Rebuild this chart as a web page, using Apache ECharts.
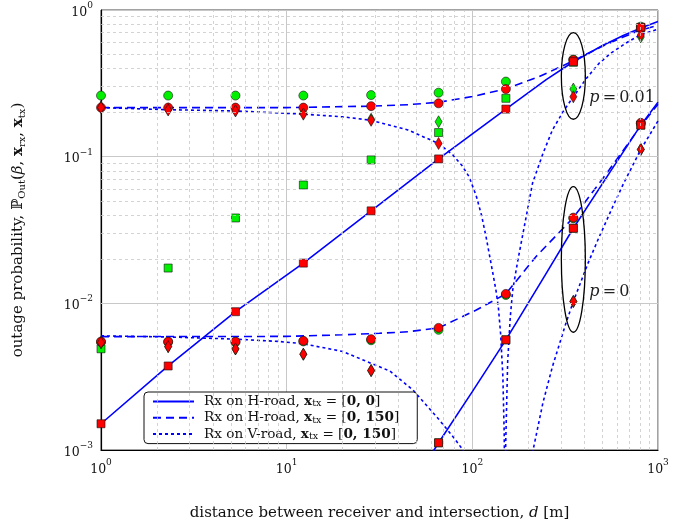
<!DOCTYPE html>
<html>
<head>
<meta charset="utf-8">
<script src="https://cdn.jsdelivr.net/npm/echarts@6/dist/echarts.min.js"></script>
<style>
  html, body { margin: 0; padding: 0; background: #fff; }
  #chart { width: 694px; height: 524px; }
</style>
</head>
<body>
<div id="chart"></div>
<script>
// distances where the markers sit
var dist = [1, 2.3, 5.3, 12.3, 28.5, 65.8, 151.6, 350, 808];

// markers, p = 0.01
var p1GreenCircle = [0.261, 0.261, 0.261, 0.261, 0.263, 0.273, 0.325, 0.46, 0.77];
var p1GreenSquare = [0.0049, 0.0174, 0.0382, 0.0641, 0.095, 0.146, 0.25, 0.44, 0.76];
var p1GreenDiamond = [0.218, 0.212, 0.208, 0.2, 0.18, 0.173, null, 0.289, 0.655];
var p1RedCircle = [0.216, 0.216, 0.216, 0.216, 0.221, 0.231, 0.289, 0.456, 0.75];
var p1RedSquare = [0.00151, 0.00374, 0.00877, 0.0188, 0.0427, 0.0965, 0.211, 0.444, 0.762];
var p1RedDiamond = [0.216, 0.208, 0.205, 0.195, 0.177, 0.123, null, 0.256, 0.675];

// markers, p = 0
var p0GreenCircle = [0.00545, 0.00545, 0.00545, 0.0055, 0.0056, 0.0066, 0.0114, 0.038, 0.168];
var p0GreenSquare = [null, null, null, null, null, 0.00112, 0.00564, 0.0325, 0.164];
var p0GreenDiamond = [0.0054, 0.00507, 0.00489, 0.0045, 0.00348, null, null, 0.0103, 0.112];
var p0RedCircle = [0.00548, 0.00548, 0.00548, 0.00555, 0.0057, 0.0068, 0.0116, 0.0384, 0.17];
var p0RedSquare = [null, null, null, null, null, 0.00112, 0.00564, 0.0325, 0.164];
var p0RedDiamond = [0.0054, 0.00507, 0.00489, 0.0045, 0.00348, null, null, 0.0103, 0.112];

// analytical curves [d, probability]
var p1Solid = [[1, 0.00151], [2.3, 0.00374], [5.3, 0.00877], [12.3, 0.0188], [28.5, 0.0427], [65.8, 0.0965],
  [151.6, 0.211], [250, 0.335], [350, 0.444], [500, 0.57], [650, 0.67], [808, 0.755], [1000, 0.835]];
var p1Dashed = [[1, 0.216], [10, 0.216], [28.5, 0.221], [45, 0.226], [65.8, 0.235], [100, 0.257], [151.6, 0.29],
  [229, 0.351], [350, 0.45], [500, 0.565], [650, 0.655], [808, 0.73], [1000, 0.785]];
var p1Dotted = [[1, 0.216], [2.3, 0.209], [5.3, 0.205], [12.3, 0.195], [20, 0.187], [28.5, 0.177], [45, 0.152],
  [65.8, 0.123], [78.4, 0.103], [88, 0.087], [96, 0.073], [105, 0.054], [112, 0.04], [118.5, 0.0285],
  [128, 0.0169], [134, 0.0123], [138, 0.0095], [142, 0.0062], [146, 0.0032], [148.5, 0.0013],
  [149.5, 0.0005], [150.5, 0.0005], [151.5, 0.0012], [155, 0.004], [160, 0.008], [165, 0.0123],
  [175, 0.019], [186, 0.0285], [200, 0.046], [211, 0.066], [240, 0.105], [270, 0.152], [310, 0.205],
  [350, 0.256], [410, 0.34], [482, 0.434], [560, 0.51], [670, 0.593], [808, 0.68], [1000, 0.74]];

var p0Solid = [[45, 0.00052], [65.8, 0.00112], [100, 0.0025], [151.6, 0.00564], [250, 0.016], [350, 0.0325],
  [566, 0.0826], [808, 0.164], [1000, 0.235]];
var p0Dashed = [[1, 0.00593], [10, 0.00595], [20, 0.0061], [31.6, 0.00625], [45, 0.0064], [65.8, 0.0068],
  [105, 0.009], [151.6, 0.0116], [220, 0.0208], [350, 0.0384], [545, 0.081], [808, 0.162], [1000, 0.228]];
var p0Dotted = [[1, 0.006], [2.3, 0.0059], [5.3, 0.0057], [9, 0.0055], [12.3, 0.0053], [20, 0.0047],
  [28.5, 0.0039], [36, 0.00345], [47.8, 0.00257], [66.5, 0.0016], [80, 0.0012], [89, 0.001], [110, 0.0005],
  [130, 0.00012], [150, 0.000001], [170, 0.00009], [190, 0.00041], [211, 0.00096], [240, 0.0021],
  [270, 0.0037], [319, 0.0073], [350, 0.0103], [420, 0.0188], [480, 0.028], [568, 0.045], [650, 0.065],
  [727, 0.086], [808, 0.112], [1000, 0.175]];

var legendNames = ['Rx on H-road, x_tx = [0, 0]', 'Rx on H-road, x_tx = [0, 150]', 'Rx on V-road, x_tx = [0, 150]'];
var minorX = [2, 3, 4, 5, 6, 7, 8, 9, 20, 30, 40, 50, 60, 70, 80, 90, 200, 300, 400, 500, 600, 700, 800, 900];
var minorY = [0.002, 0.003, 0.004, 0.005, 0.006, 0.007, 0.008, 0.009, 0.02, 0.03, 0.04, 0.05, 0.06, 0.07,
  0.08, 0.09, 0.2, 0.3, 0.4, 0.5, 0.6, 0.7, 0.8, 0.9];

var serif = 'DejaVu Serif, serif';
var blue = '#0000ff';
var green = '#00f000';
var red = '#ff0000';

function pairs(arr) {
  var out = [];
  arr.forEach(function(v, i) { if (v != null) out.push([dist[i], v]); });
  return out;
}

function lineSeries(name, data, type) {
  return {
    name: name, type: 'line', data: data, symbol: 'none', z: 3,
    lineStyle: { color: blue, width: 1.6, type: type },
    itemStyle: { color: blue }
  };
}

function markSeries(arr, symbol, size, color) {
  return {
    type: 'scatter', data: pairs(arr), symbol: symbol, symbolSize: size, z: 4,
    itemStyle: { color: color, borderColor: '#111', borderWidth: 0.6, opacity: 1 }
  };
}

function expLabel(v) {
  var e = Math.round(Math.log10(v));
  return '{b|10}{e|' + (e < 0 ? '\u2212' + (-e) : e) + '}';
}

var labelRich = {
  b: { fontFamily: serif, fontSize: 12.5, color: '#111', lineHeight: 18, verticalAlign: 'bottom' },
  e: { fontFamily: serif, fontSize: 9, color: '#111', lineHeight: 9, verticalAlign: 'top' }
};

var chart = echarts.init(document.getElementById('chart'), null, { renderer: 'canvas' });

var series = [
  {
    type: 'line', data: [], z: 1, silent: true,
    markLine: {
      silent: true, symbol: 'none', label: { show: false }, animation: false,
      lineStyle: { color: '#c8c8c8', width: 0.8, type: [3, 3] },
      emphasis: { disabled: true },
      data: minorX.map(function(v) { return { xAxis: v }; })
        .concat(minorY.map(function(v) { return { yAxis: v }; }))
    }
  },
  lineSeries(legendNames[0], p1Solid, 'solid'),
  lineSeries(legendNames[1], p1Dashed, [8, 5]),
  lineSeries(legendNames[2], p1Dotted, [3, 3]),
  lineSeries(legendNames[0], p0Solid, 'solid'),
  lineSeries(legendNames[1], p0Dashed, [8, 5]),
  lineSeries(legendNames[2], p0Dotted, [3, 3]),
  markSeries(p1GreenCircle, 'circle', 9, green),
  markSeries(p1GreenSquare, 'rect', 8, green),
  markSeries(p1GreenDiamond, 'diamond', [7, 12], green),
  markSeries(p0GreenCircle, 'circle', 9, green),
  markSeries(p0GreenSquare, 'rect', 8, green),
  markSeries(p0GreenDiamond, 'diamond', [7, 12], green),
  markSeries(p1RedCircle, 'circle', 9, red),
  markSeries(p1RedSquare, 'rect', 8, red),
  markSeries(p1RedDiamond, 'diamond', [7, 12], red),
  markSeries(p0RedCircle, 'circle', 9, red),
  markSeries(p0RedSquare, 'rect', 8, red),
  markSeries(p0RedDiamond, 'diamond', [7, 12], red)
];

chart.setOption({
  animation: false,
  backgroundColor: '#fff',
  grid: {
    left: 101, right: 36, top: 10, bottom: 74, containLabel: false, outerBoundsMode: 'none',
    show: true, borderColor: '#444', borderWidth: 1
  },
  legend: {
    data: legendNames,
    orient: 'vertical',
    left: 144, top: 392,
    itemWidth: 41, itemHeight: 12, itemGap: 1.3,
    padding: [2, 18, 2, 8],
    backgroundColor: '#fff',
    borderColor: '#111', borderWidth: 1, borderRadius: 4,
    selectedMode: false,
    itemStyle: { opacity: 0, borderWidth: 0 },
    formatter: function(name) {
      var m = name.match(/^(.*), x_tx = \[(.*)\]$/);
      return m[1] + ', {b|x}{s|tx} = [{b|' + m[2] + '}]';
    },
    textStyle: {
      fontFamily: serif, fontSize: 13.6, color: '#111', lineHeight: 15, padding: [0, 0, 0, 5],
      rich: {
        b: { fontFamily: serif, fontSize: 13.6, fontWeight: 'bold', color: '#111', lineHeight: 15 },
        s: { fontFamily: serif, fontSize: 9.5, color: '#111', lineHeight: 9, verticalAlign: 'bottom' }
      }
    }
  },
  xAxis: {
    type: 'log', logBase: 10, min: 1, max: 1000,
    name: 'distance between receiver and intersection, {i|d} [m]',
    nameLocation: 'middle', nameGap: 56,
    nameTextStyle: {
      fontFamily: serif, fontSize: 15, color: '#111',
      rich: { i: { fontFamily: serif, fontSize: 15, fontStyle: 'italic', color: '#111' } }
    },
    axisLine: { lineStyle: { color: '#000', width: 1.2 } },
    axisTick: { show: false },
    axisLabel: { margin: 8, formatter: expLabel, rich: labelRich },
    splitLine: { show: true, lineStyle: { color: '#c8c8c8', width: 1 } }
  },
  yAxis: {
    type: 'log', logBase: 10, min: 0.001, max: 1,
    name: 'outage probability, \u2119{s|Out}({i|\u03b2}, {b|x}{s|rx}, {b|x}{s|tx})',
    nameLocation: 'middle', nameGap: 74, nameRotate: 90,
    nameTextStyle: {
      fontFamily: serif, fontSize: 15, color: '#111', lineHeight: 18,
      rich: {
        i: { fontFamily: serif, fontSize: 15, fontStyle: 'italic', color: '#111', lineHeight: 18 },
        b: { fontFamily: serif, fontSize: 15, fontWeight: 'bold', color: '#111', lineHeight: 18 },
        s: { fontFamily: serif, fontSize: 10, color: '#111', lineHeight: 11, verticalAlign: 'bottom' }
      }
    },
    axisLine: { lineStyle: { color: '#000', width: 1.2 } },
    axisTick: { show: false },
    axisLabel: { margin: 8, formatter: expLabel, rich: labelRich },
    splitLine: { show: true, lineStyle: { color: '#c8c8c8', width: 1 } }
  },
  series: series
});

// ellipses and p labels, placed in data coordinates
function px(d, v) { return chart.convertToPixel({ xAxisIndex: 0, yAxisIndex: 0 }, [d, v]); }
function ellipse(d, top, bottom) {
  var a = px(d, top), b = px(d, bottom);
  return {
    type: 'ellipse', z: 10, silent: true,
    shape: { cx: a[0], cy: (a[1] + b[1]) / 2, rx: 12, ry: (b[1] - a[1]) / 2 },
    style: { fill: 'none', stroke: '#000', lineWidth: 1.3 }
  };
}
function pLabel(d, v, val) {
  var p = px(d, v);
  return {
    type: 'text', z: 10, silent: true, x: p[0], y: p[1],
    style: {
      text: '{i|p}{n|\u2009=\u2009' + val + '}',
      verticalAlign: 'middle', align: 'left',
      rich: {
        i: { fontFamily: serif, fontSize: 16, fontStyle: 'italic', fill: '#222' },
        n: { fontFamily: serif, fontSize: 16, fill: '#222' }
      }
    }
  };
}
chart.setOption({
  graphic: [
    ellipse(350, 0.70, 0.18),
    ellipse(350, 0.0625, 0.00635),
    pLabel(426, 0.25, '0.01'),
    pLabel(426, 0.012, '0')
  ]
});
</script>
</body>
</html>
